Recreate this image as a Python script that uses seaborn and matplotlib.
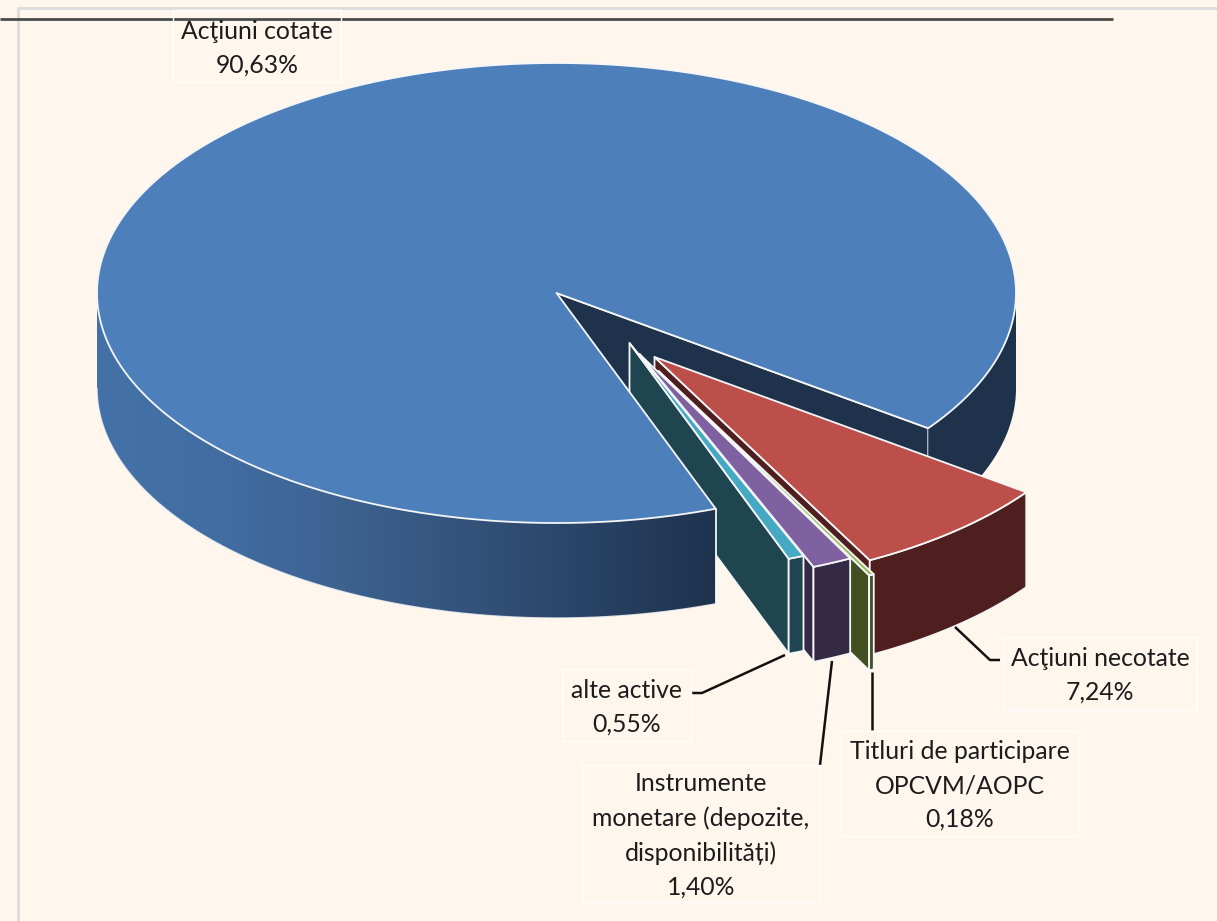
import numpy as np
import matplotlib
matplotlib.use("Agg")
import matplotlib.pyplot as plt
from matplotlib.patches import Polygon
import seaborn as sns

# Order follows the pie, clockwise on screen, starting at the right of the gap
categories = ["Acţiuni necotate", "Titluri de participare\nOPCVM/AOPC",
              "Instrumente\nmonetare (depozite,\ndisponibilități)", "alte active", "Acţiuni cotate"]
values = [7.24, 0.18, 1.40, 0.55, 90.63]
top_colors = ["#bd4f4b", "#9bbb59", "#7f60a0", "#46a9c4", "#4d7fba"]
side_colors = ["#4e1f1e", "#414f22", "#342a45", "#1f4550", "#1e324c"]
explode = [(98, 64), (102, 78), (83, 61), (73, 50), (0, 0)]

# label box: left, top, right, bottom
boxes = [(1003, 637, 1197, 710), (841, 731, 1078, 836), (582, 765, 820, 902),
         (562, 669, 691, 741), (173, 10, 341, 82)]
leaders = [[(955, 627), (990, 660), (1000, 660)], [(872, 672), (872, 730)],
           [(832, 661), (820, 765)], [(692, 693), (702, 693), (785, 655)], []]

BG = "#fff6ed"
EDGE = "#f5f6f7"
CX, CY, RX, RY = 556.5, 293, 459.5, 230
DEPTH = 95
START = 36.0

sns.set_theme(style="white")
plt.rcParams["font.family"] = ["Lato", "DejaVu Sans"]

fig = plt.figure(figsize=(12.17, 9.21), dpi=100, facecolor=BG)
ax = fig.add_axes([0, 0, 1, 1])
ax.set_xlim(0, 1217)
ax.set_ylim(921, 0)
ax.axis("off")


def arc(t0, t1, off=(0, 0), dz=0, n=200):
    t = np.radians(np.linspace(t0, t1, n))
    return np.column_stack([CX + off[0] + RX * np.cos(t), CY + off[1] + dz + RY * np.sin(t)])


def side(t0, t1, off, color, edge=EDGE):
    pts = np.vstack([arc(t0, t1, off), arc(t0, t1, off, DEPTH)[::-1]])
    ax.fill(pts[:, 0], pts[:, 1], facecolor=color, edgecolor=edge, lw=1.3, joinstyle="round")


def radial_face(t, off, color):
    p = arc(t, t, off, n=1)[0]
    a = (CX + off[0], CY + off[1])
    pts = np.array([a, p, (p[0], p[1] + DEPTH), (a[0], a[1] + DEPTH)])
    ax.fill(pts[:, 0], pts[:, 1], facecolor=color, edgecolor=EDGE, lw=1.3, joinstyle="round")


def top(t0, t1, off, color):
    a = np.array([[CX + off[0], CY + off[1]]])
    pts = np.vstack([a, arc(t0, t1, off, n=400)])
    ax.fill(pts[:, 0], pts[:, 1], facecolor=color, edgecolor=EDGE, lw=1.3, joinstyle="round")


# frame and the rule behind the chart
ax.plot([17.5, 17.5, 1217], [921, 8.5, 8.5], color="#dcdcdc", lw=2, solid_joinstyle="miter")
ax.plot([0, 1113], [19, 19], color="#4a4a4a", lw=2, solid_capstyle="butt")

angles = np.cumsum([0] + values) * 3.6 + START

# back part of the big slice
main_t0, main_t1 = angles[4], angles[5]
radial_face(main_t1, explode[4], side_colors[4])
side(360, main_t1, explode[4], side_colors[4], edge="none")

# pulled out slices, back to front
for i in range(4):
    t0, t1 = angles[i], angles[i + 1]
    radial_face(t1, explode[i], side_colors[i])
    side(t0, t1, explode[i], side_colors[i])
    top(t0, t1, explode[i], top_colors[i])

# front of the big slice, shaded towards the gap
shade = sns.blend_palette(["#4472a8", "#416da1", "#3d6290", "#34527b", "#294365", "#1e324c"], 256)
front = np.vstack([arc(180, main_t0), arc(180, main_t0, dz=DEPTH)[::-1]])
end = arc(main_t0, main_t0, n=1)[0]
img = ax.imshow(np.array(shade)[np.newaxis, :, :], extent=(CX - RX, end[0], CY + RY + DEPTH, CY),
                aspect="auto", interpolation="bilinear", zorder=2)
img.set_clip_path(Polygon(front, transform=ax.transData))
ax.set_xlim(0, 1217)
ax.set_ylim(921, 0)
low = arc(180, main_t0, dz=DEPTH)
ax.plot(low[:, 0], low[:, 1], color=EDGE, lw=1, alpha=0.8, zorder=2.1)
ax.plot([end[0], end[0]], [end[1], end[1] + DEPTH], color=EDGE, lw=1.3, zorder=2.1)
pts = np.vstack([[[CX, CY]], arc(main_t0, main_t1, n=400)])
ax.fill(pts[:, 0], pts[:, 1], facecolor=top_colors[4], edgecolor=EDGE, lw=1.3, joinstyle="round", zorder=2.2)

# leader lines and labels
for line in leaders:
    if line:
        xs, ys = zip(*line)
        ax.plot(xs, ys, color="#111111", lw=1.8, solid_capstyle="butt", zorder=3)

for name, val, box in zip(categories, values, boxes):
    l, t, r, b = box
    ax.plot([l, r, r, l, l], [t, t, b, b, t], color="white", lw=1, zorder=3)
    label = name + "\n" + f"{val:.2f}%".replace(".", ",")
    ax.text((l + r) / 2, (t + b) / 2 + 2, label, ha="center", va="center", fontsize=17.8,
            color="#1c1c1c", linespacing=1.57, zorder=4)

fig.savefig("out.png", dpi=100, facecolor=BG)
